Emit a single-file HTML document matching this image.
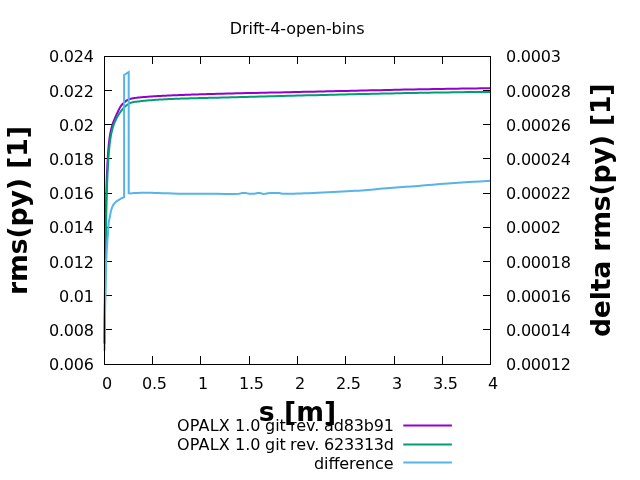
<!DOCTYPE html>
<html lang="en"><head><meta charset="utf-8"><title>Drift-4-open-bins</title>
<style>html,body{margin:0;padding:0;background:#fff;overflow:hidden}svg{display:block}text{font-family:"DejaVu Sans", "Liberation Sans", sans-serif;font-size:16px;fill:#000}.b{font-weight:bold;font-size:26.67px}.c{fill:none;stroke-width:2;stroke-linejoin:miter;stroke-miterlimit:3.8;stroke-linecap:butt}.k{fill:none;stroke:#000;stroke-width:1;stroke-linecap:square}</style></head><body>
<svg width="640" height="480" viewBox="0 0 640 480">
<rect width="640" height="480" fill="#fff"/>
<text x="229.8" y="34" textLength="134.7" lengthAdjust="spacing">Drift-4-open-bins</text>
<text x="49" y="370" textLength="45" lengthAdjust="spacing">0.006</text>
<text x="506" y="370" textLength="65" lengthAdjust="spacing">0.00012</text>
<text x="49" y="336" textLength="45" lengthAdjust="spacing">0.008</text>
<text x="506" y="336" textLength="65" lengthAdjust="spacing">0.00014</text>
<text x="59" y="302" textLength="35" lengthAdjust="spacing">0.01</text>
<text x="506" y="302" textLength="65" lengthAdjust="spacing">0.00016</text>
<text x="49" y="268" textLength="45" lengthAdjust="spacing">0.012</text>
<text x="506" y="268" textLength="65" lengthAdjust="spacing">0.00018</text>
<text x="49" y="233" textLength="45" lengthAdjust="spacing">0.014</text>
<text x="506" y="233" textLength="55" lengthAdjust="spacing">0.0002</text>
<text x="49" y="199" textLength="45" lengthAdjust="spacing">0.016</text>
<text x="506" y="199" textLength="65" lengthAdjust="spacing">0.00022</text>
<text x="49" y="165" textLength="45" lengthAdjust="spacing">0.018</text>
<text x="506" y="165" textLength="65" lengthAdjust="spacing">0.00024</text>
<text x="59" y="131" textLength="35" lengthAdjust="spacing">0.02</text>
<text x="506" y="131" textLength="65" lengthAdjust="spacing">0.00026</text>
<text x="49" y="97" textLength="45" lengthAdjust="spacing">0.022</text>
<text x="506" y="97" textLength="65" lengthAdjust="spacing">0.00028</text>
<text x="49" y="62" textLength="45" lengthAdjust="spacing">0.024</text>
<text x="506" y="62" textLength="55" lengthAdjust="spacing">0.0003</text>
<text x="102" y="389" textLength="10" lengthAdjust="spacing">0</text>
<text x="142" y="389" textLength="25" lengthAdjust="spacing">0.5</text>
<text x="198" y="389" textLength="10" lengthAdjust="spacing">1</text>
<text x="239" y="389" textLength="25" lengthAdjust="spacing">1.5</text>
<text x="295" y="389" textLength="10" lengthAdjust="spacing">2</text>
<text x="336" y="389" textLength="25" lengthAdjust="spacing">2.5</text>
<text x="392" y="389" textLength="10" lengthAdjust="spacing">3</text>
<text x="433" y="389" textLength="25" lengthAdjust="spacing">3.5</text>
<text x="488" y="389" textLength="10" lengthAdjust="spacing">4</text>
<path class="k" d="M104.5,364.5h7M490.5,364.5h-7M104.5,329.5h7M490.5,329.5h-7M104.5,295.5h7M490.5,295.5h-7M104.5,261.5h7M490.5,261.5h-7M104.5,227.5h7M490.5,227.5h-7M104.5,193.5h7M490.5,193.5h-7M104.5,158.5h7M490.5,158.5h-7M104.5,124.5h7M490.5,124.5h-7M104.5,90.5h7M490.5,90.5h-7M104.5,56.5h7M490.5,56.5h-7M104.5,364.5v-8M104.5,56.5v7M152.5,364.5v-8M152.5,56.5v7M200.5,364.5v-8M200.5,56.5v7M249.5,364.5v-8M249.5,56.5v7M297.5,364.5v-8M297.5,56.5v7M345.5,364.5v-8M345.5,56.5v7M394.5,364.5v-8M394.5,56.5v7M442.5,364.5v-8M442.5,56.5v7M490.5,364.5v-8M490.5,56.5v7"/>
<path class="c" stroke="#9400d3" d="M104.50,343.50L104.52,342.23L104.53,340.95L104.54,339.68L104.54,338.40L104.55,337.13L104.56,335.85L104.56,334.58L104.57,333.31L104.58,332.03L104.59,330.76L104.59,329.48L104.60,328.21L104.61,326.93L104.62,325.66L104.63,324.39L104.64,323.11L104.65,321.84L104.66,320.56L104.67,319.29L104.68,318.02L104.69,316.74L104.70,315.47L104.71,314.19L104.72,312.92L104.73,311.65L104.74,310.37L104.75,309.10L104.76,307.82L104.78,306.55L104.79,305.28L104.80,304L104.81,302.73L104.83,301.45L104.84,300.18L104.85,298.91L104.86,297.63L104.88,296.36L104.89,295.08L104.90,293.81L104.92,292.54L104.93,291.26L104.94,289.99L104.96,288.71L104.97,287.44L104.99,286.17L105,284.89L105.02,283.62L105.03,282.35L105.04,281.07L105.06,279.80L105.07,278.52L105.09,277.25L105.10,275.98L105.12,274.70L105.13,273.43L105.15,272.15L105.16,270.88L105.18,269.61L105.20,268.33L105.21,267.06L105.23,265.78L105.24,264.51L105.26,263.24L105.27,261.96L105.29,260.69L105.30,259.41L105.32,258.14L105.34,256.87L105.35,255.59L105.37,254.32L105.38,253.04L105.40,251.77L105.42,250.50L105.43,249.22L105.45,247.95L105.46,246.67L105.48,245.40L105.49,244.13L105.51,242.85L105.53,241.58L105.54,240.30L105.56,239.03L105.57,237.76L105.59,236.48L105.61,235.21L105.62,233.93L105.64,232.66L105.65,231.38L105.67,230.11L105.68,228.84L105.70,227.56L105.72,226.29L105.73,225.01L105.75,223.74L105.77,222.46L105.78,221.19L105.80,219.92L105.82,218.64L105.84,217.37L105.86,216.09L105.88,214.82L105.90,213.54L105.92,212.27L105.94,211L105.96,209.72L105.98,208.45L106,207.17L106.03,205.90L106.05,204.62L106.08,203.35L106.10,202.08L106.13,200.80L106.16,199.53L106.19,198.25L106.22,196.98L106.25,195.71L106.28,194.43L106.31,193.16L106.35,191.89L106.38,190.61L106.42,189.34L106.45,188.07L106.49,186.79L106.53,185.52L106.57,184.25L106.62,182.97L106.66,181.70L106.70,180.43L106.75,179.15L106.80,177.88L106.85,176.61L106.90,175.34L106.95,174.06L107.01,172.79L107.06,171.52L107.12,170.25L107.18,168.97L107.24,167.70L107.30,166.43L107.37,165.16L107.43,163.89L107.50,162.61L107.57,161.34L107.64,160.07L107.72,158.80L107.79,157.53L107.87,156.26L107.95,154.99L108.04,153.72L108.12,152.44L108.22,151.17L108.31,149.90L108.42,148.63L108.53,147.36L108.64,146.09L108.76,144.83L108.89,143.56L109.03,142.29L109.17,141.02L109.33,139.75L109.49,138.48L109.67,137.22L109.86,135.95L110.07,134.69L110.29,133.44L110.52,132.18L110.78,130.94L111.06,129.69L111.36,128.46L111.68,127.23L112.02,126L112.39,124.79L112.79,123.58L113.22,122.38L113.67,121.19L114.14,120.01L114.63,118.83L115.13,117.66L115.65,116.50L116.18,115.33L116.71,114.17L117.25,113.02L117.79,111.86L118.34,110.71L118.89,109.56L119.46,108.43L120.08,107.33L120.75,106.26L121.49,105.24L122.31,104.27L123.22,103.36L124.17,102.48L125.15,101.63L126.16,100.84L127.22,100.15L128.35,99.59L129.52,99.16L130.74,98.81L131.98,98.52L133.23,98.27L134.48,98.06L135.74,97.87L137,97.70L138.27,97.56L139.54,97.43L140.81,97.31L142.08,97.20L143.35,97.09L144.62,96.98L145.90,96.88L147.17,96.78L148.44,96.69L149.71,96.60L150.98,96.51L152.26,96.42L153.53,96.34L154.80,96.26L156.07,96.18L157.34,96.10L158.62,96.03L159.89,95.96L161.16,95.89L162.43,95.82L163.71,95.75L164.98,95.69L166.25,95.63L167.52,95.57L168.80,95.51L170.07,95.45L171.34,95.39L172.61,95.34L173.89,95.29L175.16,95.23L176.43,95.18L177.70,95.13L178.98,95.08L180.25,95.03L181.52,94.98L182.80,94.94L184.07,94.89L185.34,94.84L186.61,94.79L187.89,94.75L189.16,94.70L190.43,94.66L191.71,94.61L192.98,94.57L194.25,94.53L195.53,94.48L196.80,94.44L198.07,94.40L199.35,94.36L200.62,94.32L201.89,94.28L203.17,94.24L204.44,94.20L205.71,94.16L206.99,94.12L208.26,94.08L213.04,93.94L217.82,93.81L222.61,93.68L227.39,93.55L232.17,93.43L236.96,93.31L241.74,93.20L246.52,93.09L251.31,92.98L256.09,92.88L260.87,92.78L265.66,92.67L270.44,92.57L275.23,92.48L280.01,92.38L284.80,92.28L289.58,92.18L294.36,92.08L299.15,91.98L303.93,91.87L308.72,91.77L313.50,91.66L318.28,91.56L323.07,91.45L327.85,91.34L332.63,91.23L337.42,91.12L342.20,91.01L346.98,90.90L351.77,90.79L356.55,90.68L361.34,90.57L366.12,90.46L370.90,90.35L375.69,90.24L380.47,90.13L385.25,90.03L390.04,89.92L394.82,89.82L399.60,89.71L404.39,89.61L409.17,89.51L413.95,89.42L418.74,89.32L423.52,89.23L428.30,89.14L433.09,89.05L437.87,88.96L442.66,88.88L447.44,88.80L452.22,88.72L457.01,88.65L461.79,88.58L466.58,88.52L471.36,88.45L476.15,88.40L480.93,88.34L485.72,88.29L490.50,88.25"/>
<path class="c" stroke="#009e73" d="M104.50,343.50L104.53,342.23L104.54,340.95L104.55,339.68L104.56,338.40L104.58,337.13L104.59,335.86L104.60,334.58L104.62,333.31L104.63,332.03L104.64,330.76L104.66,329.49L104.67,328.21L104.68,326.94L104.70,325.66L104.71,324.39L104.73,323.12L104.74,321.84L104.76,320.57L104.77,319.29L104.79,318.02L104.80,316.75L104.82,315.47L104.83,314.20L104.85,312.92L104.87,311.65L104.88,310.38L104.90,309.10L104.92,307.83L104.93,306.55L104.95,305.28L104.97,304.01L104.98,302.73L105,301.46L105.02,300.18L105.04,298.91L105.05,297.64L105.07,296.36L105.09,295.09L105.11,293.81L105.13,292.54L105.14,291.26L105.16,289.99L105.18,288.72L105.20,287.44L105.22,286.17L105.24,284.89L105.25,283.62L105.27,282.35L105.29,281.07L105.31,279.80L105.33,278.52L105.35,277.25L105.37,275.98L105.39,274.70L105.41,273.43L105.42,272.15L105.44,270.88L105.46,269.61L105.48,268.33L105.50,267.06L105.52,265.78L105.54,264.51L105.56,263.24L105.58,261.96L105.60,260.69L105.62,259.41L105.64,258.14L105.66,256.87L105.68,255.59L105.69,254.32L105.71,253.04L105.73,251.77L105.75,250.50L105.77,249.22L105.79,247.95L105.81,246.67L105.83,245.40L105.85,244.13L105.87,242.85L105.89,241.58L105.91,240.30L105.92,239.03L105.94,237.76L105.96,236.48L105.98,235.21L106,233.93L106.02,232.66L106.04,231.39L106.06,230.11L106.07,228.84L106.09,227.56L106.11,226.29L106.13,225.02L106.15,223.74L106.17,222.47L106.19,221.19L106.21,219.92L106.23,218.65L106.25,217.37L106.28,216.10L106.30,214.83L106.32,213.55L106.35,212.28L106.37,211L106.40,209.73L106.42,208.46L106.45,207.18L106.48,205.91L106.50,204.64L106.53,203.36L106.56,202.09L106.59,200.82L106.63,199.54L106.66,198.27L106.69,196.99L106.73,195.72L106.76,194.45L106.80,193.17L106.84,191.90L106.88,190.63L106.92,189.35L106.96,188.08L107.01,186.81L107.05,185.53L107.10,184.26L107.15,182.99L107.20,181.72L107.25,180.44L107.30,179.17L107.36,177.90L107.41,176.62L107.47,175.35L107.53,174.08L107.59,172.80L107.66,171.53L107.72,170.26L107.79,168.99L107.86,167.71L107.93,166.44L108,165.17L108.08,163.89L108.15,162.62L108.23,161.35L108.32,160.08L108.40,158.80L108.49,157.53L108.57,156.26L108.67,154.99L108.76,153.72L108.86,152.44L108.97,151.17L109.08,149.90L109.20,148.63L109.32,147.37L109.45,146.10L109.59,144.83L109.74,143.57L109.90,142.30L110.06,141.04L110.24,139.78L110.43,138.52L110.63,137.27L110.84,136.01L111.08,134.76L111.33,133.52L111.59,132.28L111.88,131.04L112.19,129.81L112.52,128.58L112.87,127.37L113.25,126.15L113.66,124.95L114.10,123.75L114.56,122.56L115.05,121.38L115.58,120.22L116.13,119.06L116.71,117.92L117.32,116.79L117.96,115.68L118.63,114.59L119.33,113.52L120.06,112.46L120.82,111.43L121.61,110.42L122.43,109.43L123.28,108.47L124.16,107.54L125.07,106.63L126.02,105.76L127,104.95L128.03,104.22L129.10,103.58L130.22,103.05L131.38,102.64L132.59,102.31L133.82,102.06L135.08,101.86L136.34,101.69L137.62,101.54L138.89,101.39L140.16,101.25L141.44,101.11L142.71,100.98L143.98,100.85L145.25,100.72L146.53,100.60L147.80,100.49L149.07,100.37L150.35,100.27L151.62,100.16L152.89,100.06L154.16,99.97L155.44,99.87L156.71,99.78L157.98,99.70L159.26,99.61L160.53,99.53L161.80,99.46L163.07,99.38L164.35,99.31L165.62,99.25L166.89,99.18L168.17,99.12L169.44,99.06L170.71,99L171.98,98.94L173.26,98.89L174.53,98.84L175.80,98.79L177.08,98.74L178.35,98.70L179.62,98.65L180.90,98.61L182.17,98.57L183.44,98.53L184.72,98.49L185.99,98.45L187.26,98.42L188.54,98.38L189.81,98.35L191.08,98.31L192.36,98.28L193.63,98.25L194.90,98.22L196.17,98.19L197.45,98.15L198.72,98.12L199.99,98.09L201.27,98.06L202.54,98.03L203.81,98L205.09,97.97L206.36,97.93L207.63,97.90L208.91,97.87L210.18,97.84L211.45,97.81L212.73,97.78L217.43,97.66L222.14,97.54L226.85,97.42L231.55,97.30L236.26,97.18L240.97,97.06L245.67,96.94L250.38,96.82L255.09,96.70L259.80,96.58L264.50,96.45L269.21,96.33L273.92,96.21L278.63,96.09L283.33,95.97L288.04,95.85L292.75,95.73L297.46,95.61L302.17,95.49L306.87,95.37L311.58,95.26L316.29,95.14L321,95.02L325.71,94.91L330.42,94.79L335.12,94.68L339.83,94.56L344.54,94.45L349.25,94.34L353.96,94.23L358.67,94.12L363.37,94.02L368.08,93.91L372.79,93.81L377.50,93.70L382.21,93.60L386.92,93.50L391.62,93.41L396.33,93.31L401.04,93.22L405.75,93.12L410.46,93.03L415.17,92.94L419.88,92.86L424.58,92.77L429.29,92.69L434,92.61L438.71,92.53L443.42,92.46L448.12,92.39L452.83,92.32L457.54,92.25L462.25,92.19L466.96,92.12L471.66,92.06L476.37,92.01L481.08,91.95L485.79,91.90L490.50,91.90"/>
<path class="c" stroke="#56b4e9" d="M104.50,351L104.54,348.37L104.57,345.74L104.61,343.10L104.65,340.47L104.69,337.84L104.72,335.21L104.76,332.60L104.80,330L104.84,327.45L104.87,324.88L104.91,322.31L104.95,319.75L104.98,317.22L105.02,314.74L105.06,312.33L105.10,310L105.13,308.17L105.17,306.45L105.21,304.80L105.24,303.17L105.28,301.53L105.32,299.81L105.36,297.99L105.40,296L105.46,292.77L105.51,289.24L105.57,285.47L105.63,281.56L105.70,277.58L105.78,273.60L105.88,269.72L106,266L106.14,262.57L106.30,259.01L106.49,255.42L106.68,251.89L106.87,248.52L107.06,245.40L107.24,242.63L107.40,240.30L107.47,239.36L107.54,238.54L107.60,237.79L107.66,237.10L107.73,236.45L107.79,235.79L107.84,235.12L107.90,234.40L107.96,233.61L108.01,232.81L108.06,232L108.10,231.19L108.15,230.38L108.20,229.57L108.25,228.78L108.30,228L108.35,227.29L108.39,226.60L108.44,225.92L108.48,225.24L108.53,224.56L108.59,223.88L108.66,223.19L108.75,222.50L108.86,221.76L108.98,221.03L109.12,220.29L109.27,219.54L109.42,218.79L109.58,218.04L109.74,217.27L109.90,216.50L110.07,215.64L110.24,214.75L110.41,213.84L110.58,212.92L110.76,212.02L110.96,211.14L111.17,210.29L111.40,209.50L111.60,208.89L111.80,208.29L112.01,207.72L112.23,207.16L112.46,206.62L112.71,206.10L112.97,205.59L113.25,205.10L113.52,204.66L113.80,204.24L114.10,203.84L114.41,203.44L114.73,203.06L115.06,202.69L115.40,202.34L115.75,202L116.11,201.68L116.49,201.38L116.88,201.09L117.28,200.82L117.68,200.56L118.09,200.30L118.50,200.05L118.90,199.80L119.29,199.56L119.68,199.33L120.08,199.10L120.48,198.88L120.87,198.66L121.26,198.46L121.64,198.27L122,198.10L122.28,197.98L122.55,197.87L122.81,197.76L123.07,197.67L123.33,197.58L123.58,197.49L123.84,197.40L124.10,197.30L124.10,75L128.70,72.10L128.70,193.20L130.50,193.40L131.71,193.29L132.89,193.19L134.13,193.08L135.50,193L137.73,192.91L140.22,192.85L142.84,192.81L145.50,192.80L148.46,192.81L151.48,192.85L154.64,192.92L158,193L162.58,193.14L167.45,193.33L172.61,193.51L178,193.65L185.06,193.73L192.58,193.75L200.31,193.75L208,193.75L216.59,193.84L225.77,193.98L233.89,194L239.25,193.75L240.07,193.60L240.65,193.41L241.15,193.23L241.75,193.10L242.63,193L243.58,192.95L244.55,192.95L245.50,193L246.43,193.14L247.34,193.37L248.27,193.59L249.25,193.75L250.47,193.84L251.78,193.86L253.07,193.83L254.25,193.75L255.10,193.61L255.89,193.42L256.65,193.23L257.40,193.10L258.06,193.05L258.69,193.03L259.33,193.04L260,193.10L260.85,193.27L261.74,193.53L262.66,193.77L263.60,193.90L264.62,193.84L265.64,193.65L266.74,193.42L268,193.25L270.61,193.09L273.74,193L276.81,192.99L279.25,193.10L280.16,193.24L280.89,193.43L281.59,193.61L282.40,193.75L283.63,193.82L284.96,193.82L286.41,193.78L288,193.75L290.73,193.72L293.81,193.67L297.11,193.59L300.50,193.50L304.64,193.35L308.99,193.16L313.47,192.96L318,192.75L322.94,192.52L328,192.29L333.06,192.05L338,191.80L342.53,191.57L347.01,191.34L351.36,191.10L355.50,190.85L358.67,190.64L361.61,190.44L364.62,190.22L368,189.95L373.65,189.46L379.96,188.87L386.55,188.25L393,187.70L399.20,187.24L405.36,186.82L411.59,186.41L418,185.95L425.19,185.37L432.50,184.75L440.07,184.12L448,183.50L458.10,182.79L468.79,182.09L479.70,181.40L490.50,180.70"/>
<rect class="k" x="104.5" y="56.5" width="386.0" height="308.0"/>
<text class="b" x="297.5" y="420.5" text-anchor="middle">s [m]</text>
<text class="b" transform="translate(27,210.6) rotate(-90)" text-anchor="middle" textLength="169" lengthAdjust="spacing">rms(py) [1]</text>
<text class="b" transform="translate(610.4,210.3) rotate(-90)" text-anchor="middle" textLength="253.6" lengthAdjust="spacing">delta rms(py) [1]</text>
<text y="431.0" xml:space="preserve"><tspan x="177" style="letter-spacing:.16px">OPALX </tspan><tspan x="235">1.0 </tspan><tspan x="265">git </tspan><tspan x="290">rev. </tspan><tspan x="324" textLength="70" lengthAdjust="spacing">ad83b91</tspan></text>
<path class="c" stroke="#9400d3" d="M403.3,425.4H451.9"/>
<text y="450.0" xml:space="preserve"><tspan x="177" style="letter-spacing:.16px">OPALX </tspan><tspan x="235">1.0 </tspan><tspan x="265">git </tspan><tspan x="290">rev. </tspan><tspan x="324" textLength="70" lengthAdjust="spacing">623313d</tspan></text>
<path class="c" stroke="#009e73" d="M403.3,444.5H451.9"/>
<text y="469.0" xml:space="preserve"><tspan x="314" textLength="79.6" lengthAdjust="spacing">difference</tspan></text>
<path class="c" stroke="#56b4e9" d="M403.3,462.5H451.9"/>
</svg></body></html>
